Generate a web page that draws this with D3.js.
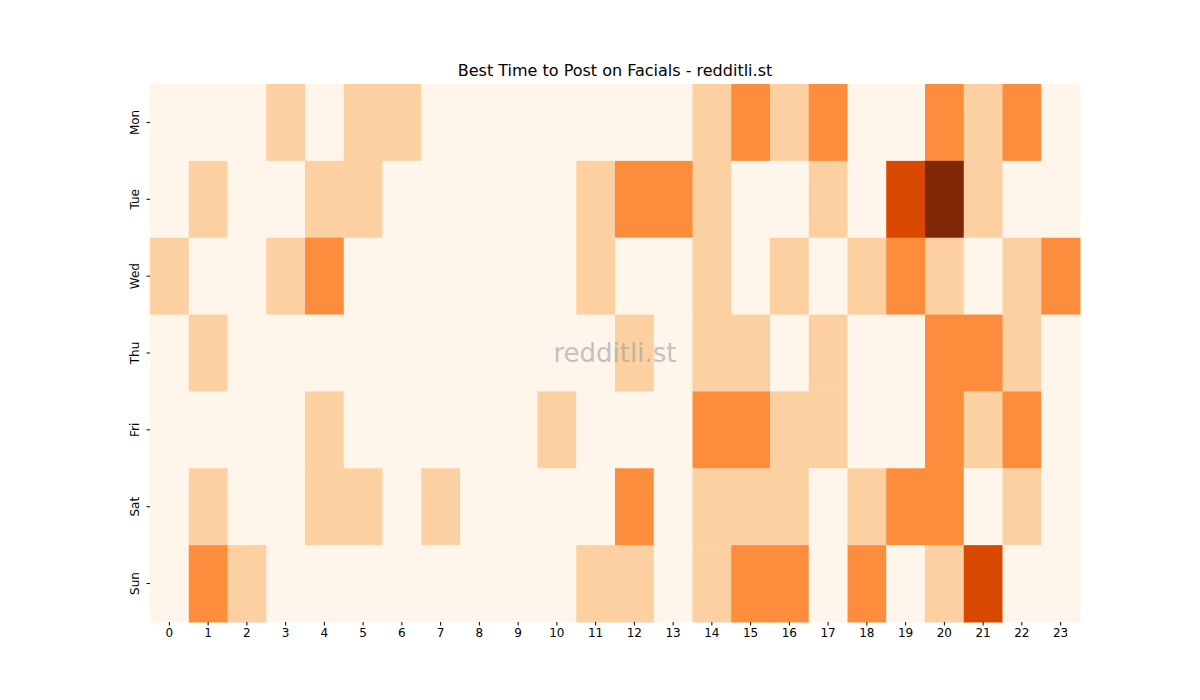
<!DOCTYPE html>
<html><head><meta charset="utf-8">
<script src="https://cdn.jsdelivr.net/npm/d3@7"></script>
<style>body{margin:0;background:#fff}</style></head>
<body><svg id="c" width="1200" height="700"></svg>
<script>
const days = ["Mon","Tue","Wed","Thu","Fri","Sat","Sun"];
const hours = d3.range(24).map(String);
const mon = [0,0,0,1,0,1,1,0,0,0,0,0,0,0,1,2,1,2,0,0,2,1,2,0];
const tue = [0,1,0,0,1,1,0,0,0,0,0,1,2,2,1,0,0,1,0,3,4,1,0,0];
const wed = [1,0,0,1,2,0,0,0,0,0,0,1,0,0,1,0,1,0,1,2,1,0,1,2];
const thu = [0,1,0,0,0,0,0,0,0,0,0,0,1,0,1,1,0,1,0,0,2,2,1,0];
const fri = [0,0,0,0,1,0,0,0,0,0,1,0,0,0,2,2,1,1,0,0,2,1,2,0];
const sat = [0,1,0,0,1,1,0,1,0,0,0,0,2,0,1,1,1,0,1,2,2,0,1,0];
const sun = [0,2,1,0,0,0,0,0,0,0,0,1,1,0,1,2,2,0,2,0,1,3,0,0];
const rows = [mon,tue,wed,thu,fri,sat,sun];

const svg = d3.select("#c");
const L=150,R=1080,T=84,B=622;
const x = d3.scaleBand().domain(hours).range([L,R]);
const y = d3.scaleBand().domain(days).range([T,B]);
const color = d3.scaleOrdinal().domain([0,1,2,3,4]).range(["#fff5eb","#fdd0a2","#fd8d3c","#d94801","#7f2704"]);
const cells = [];
rows.forEach((r,i)=>r.forEach((v,j)=>cells.push({d:days[i],h:hours[j],v})));
svg.append("g").selectAll("rect").data(cells).join("rect")
  .attr("x",d=>x(d.h)).attr("y",d=>y(d.d))
  .attr("width",x.bandwidth()+0.5).attr("height",y.bandwidth()+0.5)
  .attr("fill",d=>color(d.v));
const font="DejaVu Sans, sans-serif";
const xa = svg.append("g").attr("transform",`translate(0,${B})`).call(d3.axisBottom(x).tickSize(3.5));
xa.select(".domain").remove();
xa.selectAll("text").attr("font-size",12).attr("font-family",font).attr("fill","#000");
const ya = svg.append("g").attr("transform",`translate(${L},0)`).call(d3.axisLeft(y).tickSize(3.5));
ya.select(".domain").remove();
ya.selectAll("text").attr("font-size",12).attr("font-family",font).attr("fill","#000")
  .attr("text-anchor","middle").attr("transform",function(d){return `translate(-15,${y(d)+y.bandwidth()/2}) rotate(-90)`;})
  .attr("x",0).attr("y",0).attr("dy","0.35em");
ya.selectAll(".tick").attr("transform",null);
ya.selectAll(".tick line").attr("transform",d=>`translate(0,${y(d)+y.bandwidth()/2})`);
svg.append("text").attr("x",615).attr("y",76).attr("text-anchor","middle")
  .attr("font-family",font).attr("font-size",16).text("Best Time to Post on Facials - redditli.st");
svg.append("text").attr("x",615).attr("y",362).attr("text-anchor","middle")
  .attr("font-family",font).attr("font-size",26).attr("fill","#a0a0a0").attr("opacity",0.6).text("redditli.st");
</script></body></html>
